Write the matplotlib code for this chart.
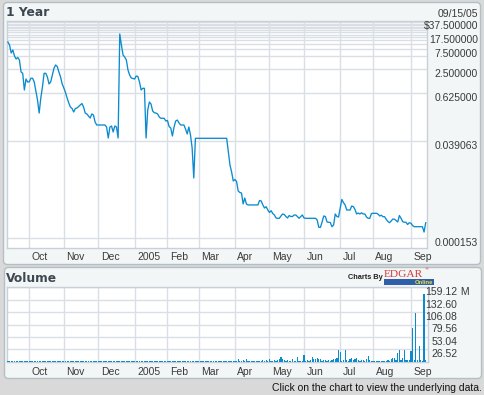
import numpy as np
import pandas as pd
import matplotlib
matplotlib.use("Agg")
import matplotlib.pyplot as plt
from matplotlib.patches import FancyBboxPatch, Rectangle
from matplotlib.transforms import offset_copy
from matplotlib.ticker import NullLocator

# ---------------- data ----------------
holidays = ["2004-11-25", "2004-12-24", "2005-01-17", "2005-02-21",
            "2005-03-25", "2005-05-30", "2005-07-04", "2005-09-05"]
dates = pd.bdate_range("2004-09-14", "2005-09-15", freq="C", holidays=holidays)

price = [
    11.4, 9.64, 6.10, 7.24, 5.14, 4.33, 4.72, 4.09, 2.06, 1.91,
    0.736, 1.38, 1.16, 1.18, 1.44, 1.44, 1.16, 0.695, 0.415, 0.197,
    0.466, 0.873, 1.91, 1.91, 1.55, 1.04, 1.16, 1.73, 2.54, 3.07,
    2.82, 2.06, 1.55, 1.04, 0.825, 0.638, 0.466, 0.350, 0.278, 0.256,
    0.209, 0.256, 0.263, 0.286, 0.312, 0.340, 0.278, 0.197, 0.187, 0.166,
    0.148, 0.187, 0.176, 0.118, 0.0995, 0.0995, 0.0995, 0.0995, 0.0995, 0.0995,
    0.0887, 0.0473, 0.0887, 0.0939, 0.0667, 0.0939, 0.0887, 0.0473, 18.1, 9.64,
    5.44, 4.85, 4.09, 2.31, 1.73, 1.46, 1.42, 1.38, 1.64, 1.59,
    1.16, 0.736, 0.811, 0.811, 0.0473, 0.234, 0.370, 0.330, 0.221, 0.201,
    0.197, 0.187, 0.157, 0.146, 0.146, 0.146, 0.125, 0.129, 0.0913, 0.0838,
    0.0530, 0.0887, 0.125, 0.132, 0.112, 0.0995, 0.0995, 0.0995, 0.0791, 0.0595,
    0.0887, 0.0562, 0.0267, 0.00481, 0.0465, 0.0465, 0.0465, 0.0465, 0.0465, 0.0465,
    0.0465, 0.0465, 0.0465, 0.0465, 0.0465, 0.0465, 0.0465, 0.0465, 0.0465, 0.0465,
    0.0465, 0.0465, 0.0465, 0.0465, 0.0213, 0.0101, 0.00678, 0.00405, 0.00441, 0.00394,
    0.00229, 0.00210, 0.00204, 0.00109, 0.00153, 0.00109, 0.00103, 0.00103, 0.00103, 0.00103,
    0.00103, 0.00103, 0.00103, 0.00133, 0.00129, 0.00103, 0.000865, 0.000932, 0.000772, 0.000669,
    0.000742, 0.000632, 0.000580, 0.000489, 0.000480, 0.000480, 0.000548, 0.000614, 0.000597, 0.000532,
    0.000489, 0.000563, 0.000532, 0.000532, 0.000580, 0.000580, 0.000532, 0.000480, 0.000526, 0.000580,
    0.000489, 0.000480, 0.000480, 0.000480, 0.000480, 0.000480, 0.000480, 0.000480, 0.000436, 0.000287,
    0.000287, 0.000389, 0.000548, 0.000532, 0.000389, 0.000382, 0.000378, 0.000297, 0.000327, 0.000614,
    0.000532, 0.000517, 0.000841, 0.00141, 0.00118, 0.00103, 0.000772, 0.000772, 0.000772, 0.000965,
    0.000943, 0.000794, 0.000614, 0.000650, 0.000614, 0.000658, 0.000614, 0.000614, 0.000517, 0.000480,
    0.000480, 0.000632, 0.000639, 0.000639, 0.000639, 0.000614, 0.000548, 0.000573, 0.000526, 0.000526,
    0.000453, 0.000400, 0.000373, 0.000411, 0.000461, 0.000456, 0.000423, 0.000389, 0.000563, 0.000480,
    0.000396, 0.000384, 0.000382, 0.000337, 0.000373, 0.000363, 0.000318, 0.000297, 0.000297, 0.000297,
    0.000297, 0.000297, 0.000297, 0.000219, 0.000373,
]

volume = [
    1.5, 1.4, 1.6, 1.5, 1.5, 1.4, 1.5, 1.6, 1.5, 1.5,
    1.4, 1.5, 1.5, 1.6, 1.5, 1.4, 1.5, 1.5, 1.6, 1.5,
    1.5, 1.4, 1.5, 1.5, 1.6, 1.5, 1.5, 1.4, 1.5, 1.5,
    1.6, 1.5, 1.5, 1.4, 1.5, 1.5, 1.6, 1.5, 1.5, 1.4,
    1.5, 1.5, 1.6, 1.5, 1.5, 1.4, 1.5, 1.5, 1.6, 1.5,
    1.5, 1.4, 1.5, 1.5, 1.6, 1.5, 1.5, 1.4, 1.5, 1.5,
    1.6, 1.5, 1.5, 1.4, 1.5, 1.5, 1.6, 1.5, 1.5, 1.4,
    1.5, 1.5, 1.6, 1.5, 1.5, 1.4, 1.5, 1.5, 1.6, 1.5,
    1.5, 1.4, 1.5, 1.5, 1.6, 1.5, 1.5, 1.4, 1.5, 1.5,
    1.6, 1.5, 1.5, 1.4, 1.5, 1.5, 1.6, 1.5, 1.5, 1.4,
    1.5, 1.5, 1.6, 1.5, 1.5, 1.4, 1.5, 1.5, 1.6, 1.5,
    1.5, 1.4, 1.5, 1.5, 1.6, 1.5, 1.5, 1.4, 1.5, 1.5,
    1.6, 1.5, 1.5, 1.4, 1.5, 1.5, 1.6, 1.5, 1.5, 1.4,
    1.5, 1.5, 1.6, 1.5, 1.5, 1.4, 1.5, 1.5,
    2, 2.5, 6.4, 2, 2.5, 3, 2.5, 5.8, 2, 2,
    2.5, 2, 2, 2.5, 2, 2.5, 2, 3.6, 2.5, 4.3,
    2.5, 5.1, 2.5, 2, 3.6, 2.5, 3, 6.4, 10, 5,
    3, 2.5, 3, 2, 2.5, 5, 2.5, 2, 9.4, 2.5,
    2, 2.5, 14.3, 2.5, 3.6, 2, 2.9, 9.3, 5, 5.8,
    7.8, 6.4, 5.7, 2.5, 3.6, 2.9, 2.5, 2.9, 2, 3.6,
    5.8, 6.4, 8.6, 25, 20, 2.1, 3, 25, 3.6, 2.5,
    5, 8.6, 3.6, 5.8, 7, 3.6, 2.5, 2.9, 4.3, 2.5,
    5, 12.1, 2.9, 2.5, 2, 2.5, 2, 2.5, 2, 2.5,
    2, 2.5, 2, 3, 2.5, 5.7, 7.8, 8.6, 3, 19.3,
    24.2, 3, 8.6, 24.2, 2.9, 3.6, 4.3, 22, 72, 4,
    105, 3, 33, 3, 2.5, 145, 3,
]

month_labels = ["Oct", "Nov", "Dec", "2005", "Feb", "Mar", "Apr",
                "May", "Jun", "Jul", "Aug", "Sep"]
price_ticks = [37.5, 17.5, 7.5, 2.5, 0.625, 0.039063, 0.000153]
price_tick_labels = ["$37.500000", "17.500000", "7.500000", "2.500000",
                     "0.625000", "0.039063", "0.000153"]
price_grid = [2.5, 5, 7.5, 10, 12.5, 15, 17.5, 20, 22.5, 25, 27.5, 30,
              32.5, 35, 37.5, 0.625, 0.039063, 0.000153]
vol_ticks = [26.52, 53.04, 79.56, 106.08, 132.60, 159.12]
vol_tick_labels = ["26.52", "53.04", "79.56", "106.08", "132.60", "159.12"]
date_label = "09/15/05"

# ---------------- style ----------------
BLUE = "#0a8bd0"
GRID = "#dadfe6"
TXT = "#3a3a3a"
TITLE = "#3e4852"
FONT = ["Liberation Sans Narrow", "Liberation Sans", "DejaVu Sans"]
W, H = 484, 395

n = min(len(price), len(dates))
xs = np.arange(n)
month_pos = [i for i in range(1, n) if dates[i].month != dates[i - 1].month]

fig = plt.figure(figsize=(W / 100, H / 100), dpi=100, facecolor="#d9d9d9")

def fx(px):
    return px / W

def fy(py):
    return 1 - py / H

# background overlay in pixel coordinates
bg = fig.add_axes([0, 0, 1, 1])
bg.set_xlim(0, W)
bg.set_ylim(H, 0)
bg.axis("off")
bg.set_zorder(-5)
for (x0, y0, x1, y1) in [(3.5, 2.5, 480.5, 264.5), (4.5, 267.5, 481.5, 378.5)]:
    bg.add_patch(FancyBboxPatch((x0, y0), x1 - x0, y1 - y0,
                                boxstyle="round,pad=0,rounding_size=4",
                                fc="#f3f6f6", ec="#b4bec6", lw=1.0))
bg.text(6, 12.5, "1 Year", fontsize=8.8, fontweight="bold", color=TITLE,
        family="DejaVu Sans", ha="left", va="center")
bg.text(6, 278.5, "Volume", fontsize=8.8, fontweight="bold", color=TITLE,
        family="DejaVu Sans", ha="left", va="center")
bg.text(478, 14, date_label, fontsize=7.5, color=TXT, family=FONT,
        ha="right", va="center")
bg.text(481.5, 388.3, "Click on the chart to view the underlying data.",
        fontsize=7.5, color="#111111", family=["Liberation Sans", "DejaVu Sans"],
        ha="right", va="center")
# EDGAR Online logo
bg.text(383, 277.5, "Charts By", fontsize=5.3, fontweight="bold", color="#222222",
        family=["Liberation Sans", "DejaVu Sans"], ha="right", va="center")
bg.text(384, 274.2, "EDGAR", fontsize=8.2, color="#d23a3a",
        family=["Liberation Serif", "DejaVu Serif"], ha="left", va="center")
bg.text(424, 269.8, "®", fontsize=3.2, color="#d23a3a", ha="left", va="center")
bg.add_patch(Rectangle((384, 279.3), 50, 5.2, fc="#2f5fa8", ec="none"))
bg.text(433, 282, "Online", fontsize=4.2, fontweight="bold", color="#e8e23a",
        family=["Liberation Sans", "DejaVu Sans"], ha="right", va="center")

# ---------------- price chart ----------------
ax = fig.add_axes([fx(7), fy(248.3), fx(419.7), 227.6 / H])
ax.set_facecolor("white")
ax.set_yscale("log")
ax.set_ylim(8.64e-5, 38.66)
ax.set_xlim(-0.55, 254.6)
ax.plot(xs, price[:n], color=BLUE, lw=0.95, zorder=3)
ax.set_yticks(price_grid)
ax.yaxis.set_minor_locator(NullLocator())
ax.set_yticklabels([])
ax.set_xticks(month_pos)
ax.set_xticklabels([])
ax.tick_params(length=0)
ax.grid(True, color=GRID, lw=1.0)
ax.set_axisbelow(True)
for s in ax.spines.values():
    s.set_color("#c9d0d8")
    s.set_linewidth(1.0)

ytr = offset_copy(ax.get_yaxis_transform(), fig=fig, x=0, y=-5, units="dots")
for v, lab in zip(price_ticks, price_tick_labels):
    ax.text((478 - 7) / 419.7, v, lab, transform=ytr, ha="right", va="center",
            fontsize=7.5, color=TXT, family=FONT, clip_on=False)
xtr = offset_copy(ax.get_xaxis_transform(), fig=fig, x=2.4, y=0, units="dots")
for p, lab in zip(month_pos, month_labels):
    ax.text(p, -(257 - 248.3) / 227.6, lab, transform=xtr, ha="left", va="center",
            fontsize=7.5, color=TXT, family=FONT, clip_on=False)

# ---------------- volume chart ----------------
vax = fig.add_axes([fx(6.7), fy(361.7), fx(421), 74.4 / H])
vax.set_facecolor("white")
vax.set_xlim(-0.73, 255.2)
vax.set_ylim(0, 159.12)
vax.bar(xs, volume[:n], width=0.75, color=BLUE, zorder=3, linewidth=0)
vax.set_yticks(vol_ticks)
vax.set_yticklabels([])
vax.set_xticks(month_pos)
vax.set_xticklabels([])
vax.tick_params(length=0)
vax.grid(True, color=GRID, lw=1.0)
vax.set_axisbelow(True)
for s in vax.spines.values():
    s.set_color("#c9d0d8")
    s.set_linewidth(1.0)

vtr = offset_copy(vax.get_yaxis_transform(), fig=fig, x=0, y=-5, units="dots")
xr = (457.5 - 6.7) / 421
for v, lab in zip(vol_ticks, vol_tick_labels):
    vax.text(xr, v, lab, transform=vtr, ha="right", va="center",
             fontsize=7.5, color=TXT, family=FONT, clip_on=False)
vax.text(xr, vol_ticks[-1], " M", transform=vtr, ha="left", va="center",
         fontsize=7.5, color=TXT, family=FONT, clip_on=False)
vxtr = offset_copy(vax.get_xaxis_transform(), fig=fig, x=2.4, y=0, units="dots")
for p, lab in zip(month_pos, month_labels):
    vax.text(p, -(371.7 - 361.7) / 74.4, lab, transform=vxtr, ha="left", va="center",
             fontsize=7.5, color=TXT, family=FONT, clip_on=False)

fig.savefig("out.png", dpi=100, facecolor=fig.get_facecolor())
